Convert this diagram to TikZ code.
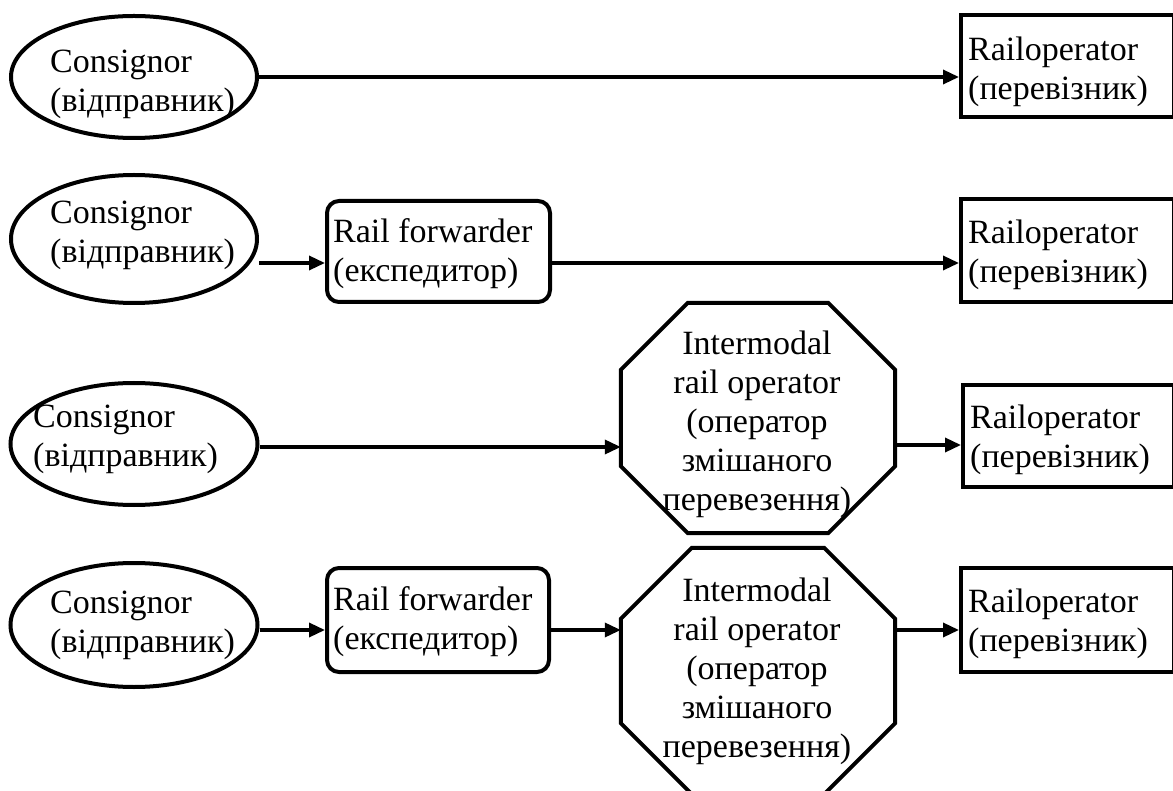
\documentclass[tikz,border=0pt]{standalone}
\usepackage{fontspec}
\setmainfont{Liberation Serif}
\usetikzlibrary{arrows.meta,shapes.geometric,calc}

% octagonal outline around an (undrawn) rectangular node: #1 node, #2 chamfer
\newcommand\drawoctagon[2]{%
  \draw[shape line]
    ([xshift=#2]#1.north west) -- ([xshift=-#2]#1.north east)
    -- ([yshift=-#2]#1.north east) -- ([yshift=#2]#1.south east)
    -- ([xshift=-#2]#1.south east) -- ([xshift=#2]#1.south west)
    -- ([yshift=#2]#1.south west) -- ([yshift=-#2]#1.north west) -- cycle;}

\begin{document}
\begin{tikzpicture}[x=1pt,y=-1pt,
  shape line/.style={draw=black,line width=4pt,line join=miter},
  consignor/.style={ellipse,shape line,inner sep=0pt},
  forwarder/.style={rectangle,rounded corners=12pt,shape line,inner sep=0pt},
  carrier/.style={rectangle,shape line,inner sep=0pt},
  octbase/.style={rectangle,inner sep=0pt},
  txt/.style={inner sep=0pt,font=\fontsize{34}{39}\selectfont},
  lefttxt/.style={txt,anchor=west,align=left},
  midtxt/.style={txt,align=center},
  flow/.style={line width=3.4pt,-{Triangle[length=16pt,width=14pt]}},
]
\path[use as bounding box,clip] (0,0) rectangle (1173,791);

% ---------- row 1: consignor -> rail operator
\node[consignor,minimum width=246pt,minimum height=122pt] (s1) at (134,77) {};
\node[carrier,minimum width=213pt,minimum height=102pt] (c1) at (1067.5,66) {};
\node[lefttxt] (s1t) at (50,84) {Consignor\\(відправник)};
\node[lefttxt] (c1t) at (968,72) {Railoperator\\(перевізник)};
\draw[flow] (s1.east) -- (s1.east -| c1.west);

% ---------- row 2: consignor -> forwarder -> rail operator
\coordinate (r2) at (0,263);
\node[consignor,minimum width=246pt,minimum height=128pt] (s2) at (134,239) {};
\node[forwarder,minimum width=223pt,minimum height=101pt] (f2) at (438.5,251.5) {};
\node[carrier,minimum width=213pt,minimum height=103pt] (c2) at (1067.5,250.5) {};
\node[lefttxt] (s2t) at (50,235.5) {Consignor\\(відправник)};
\node[lefttxt] (f2t) at (333,254) {Rail forwarder\\(експедитор)};
\node[lefttxt] (c2t) at (968,255) {Railoperator\\(перевізник)};
\draw[flow] (s2.east |- r2) -- (f2.west |- r2);
\draw[flow] (f2.east |- r2) -- (c2.west |- r2);

% ---------- row 3: consignor -> intermodal operator -> rail operator
\coordinate (r3a) at (0,447);
\coordinate (r3b) at (0,445);
\node[consignor,minimum width=247pt,minimum height=122pt] (s3) at (134,444) {};
\node[octbase,minimum width=274pt,minimum height=230pt] (o3) at (758,418) {};
\drawoctagon{o3}{67pt}
\node[carrier,minimum width=211pt,minimum height=102pt] (c3) at (1068.5,436) {};
\node[lefttxt] (s3t) at (33,439.5) {Consignor\\(відправник)};
\node[midtxt] (o3t) at (757,424) {Intermodal\\rail operator\\(оператор\\змішаного\\перевезення)};
\node[lefttxt] (c3t) at (970,440) {Railoperator\\(перевізник)};
\draw[flow] (s3.east |- r3a) -- (o3.west |- r3a);
\draw[flow] (o3.east |- r3b) -- (c3.west |- r3b);

% ---------- row 4: consignor -> forwarder -> intermodal operator -> rail operator
\coordinate (r4) at (0,630);
\node[consignor,minimum width=247pt,minimum height=124pt] (s4) at (134,625) {};
\node[forwarder,minimum width=222pt,minimum height=104pt] (f4) at (438,620) {};
\node[octbase,minimum width=274pt,minimum height=246pt] (o4) at (758,671) {};
\drawoctagon{o4}{71pt}
\node[carrier,minimum width=213pt,minimum height=104pt] (c4) at (1067.5,620) {};
\node[lefttxt] (s4t) at (50,625) {Consignor\\(відправник)};
\node[lefttxt] (f4t) at (333,622) {Rail forwarder\\(експедитор)};
\node[midtxt] (o4t) at (757,671) {Intermodal\\rail operator\\(оператор\\змішаного\\перевезення)};
\node[lefttxt] (c4t) at (968,624) {Railoperator\\(перевізник)};
\draw[flow] (s4.east |- r4) -- (f4.west |- r4);
\draw[flow] (f4.east |- r4) -- (o4.west |- r4);
\draw[flow] (o4.east |- r4) -- (c4.west |- r4);
\end{tikzpicture}
\end{document}
